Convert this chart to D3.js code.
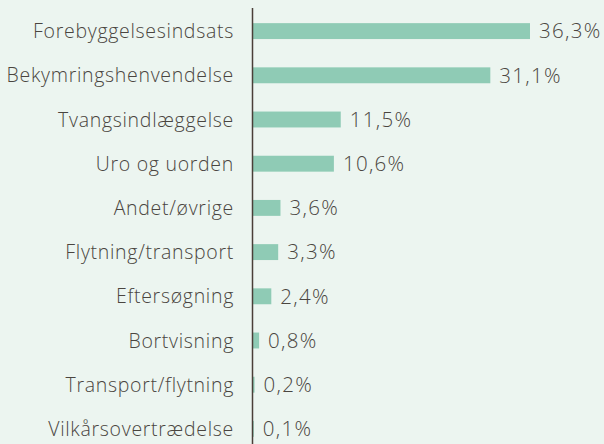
<!DOCTYPE html>
<html>
<head>
<meta charset="utf-8">
<script src="https://cdn.jsdelivr.net/npm/d3@7"></script>
<style>
  body { margin: 0; background: #ecf5f0; }
  svg { display: block; }
  text { font-family: "Open Sans", Lato, sans-serif; font-weight: 300; fill: #4a4540; }
</style>
</head>
<body>
<div id="chart"></div>
<script>
// categories and their shares (%)
var categories = ["Forebyggelsesindsats", "Bekymringshenvendelse", "Tvangsindlæggelse", "Uro og uorden",
  "Andet/øvrige", "Flytning/transport", "Eftersøgning", "Bortvisning", "Transport/flytning", "Vilkårsovertrædelse"]
var values = [36.3, 31.1, 11.5, 10.6, 3.6, 3.3, 2.4, 0.8, 0.2, 0.1]
var valueLabels = ["36,3%", "31,1%", "11,5%", "10,6%", "3,6%", "3,3%", "2,4%", "0,8%", "0,2%", "0,1%"]

var width = 604, height = 444
var left = 253

var svg = d3.select("#chart").append("svg")
  .attr("width", width)
  .attr("height", height)

var x = d3.scaleLinear().domain([0, 36.3]).range([left, 530])
var y = d3.scaleBand().domain(categories).range([9, 451]).paddingInner(0.64).paddingOuter(0.32)

var rows = categories.map(function(c, i){ return {cat: c, val: values[i], lab: valueLabels[i]} })

svg.selectAll("rect.bar")
  .data(rows)
  .enter()
  .append("rect")
  .attr("class", "bar")
  .attr("x", x(0))
  .attr("y", function(d){ return y(d.cat) })
  .attr("width", function(d){ return x(d.val) - x(0) })
  .attr("height", y.bandwidth())
  .attr("fill", "#8fcbb5")

svg.selectAll("text.cat")
  .data(rows)
  .enter()
  .append("text")
  .attr("class", "cat")
  .attr("x", left - 19)
  .attr("y", function(d){ return y(d.cat) + y.bandwidth() / 2 })
  .attr("dy", "0.36em")
  .attr("text-anchor", "end")
  .style("font-size", "19.5px")
  .style("letter-spacing", "0.7px")
  .text(function(d){ return d.cat })

svg.selectAll("text.val")
  .data(rows)
  .enter()
  .append("text")
  .attr("class", "val")
  .attr("x", function(d){ return x(d.val) + 9 })
  .attr("y", function(d){ return y(d.cat) + y.bandwidth() / 2 })
  .attr("dy", "0.36em")
  .style("font-size", "20.5px")
  .style("letter-spacing", "1.3px")
  .text(function(d){ return d.lab })

// vertical axis line
svg.append("line")
  .attr("x1", left - 0.5).attr("x2", left - 0.5)
  .attr("y1", 8).attr("y2", height)
  .attr("stroke", "#4a3f38")
  .attr("stroke-width", 1.5)
</script>
</body>
</html>
